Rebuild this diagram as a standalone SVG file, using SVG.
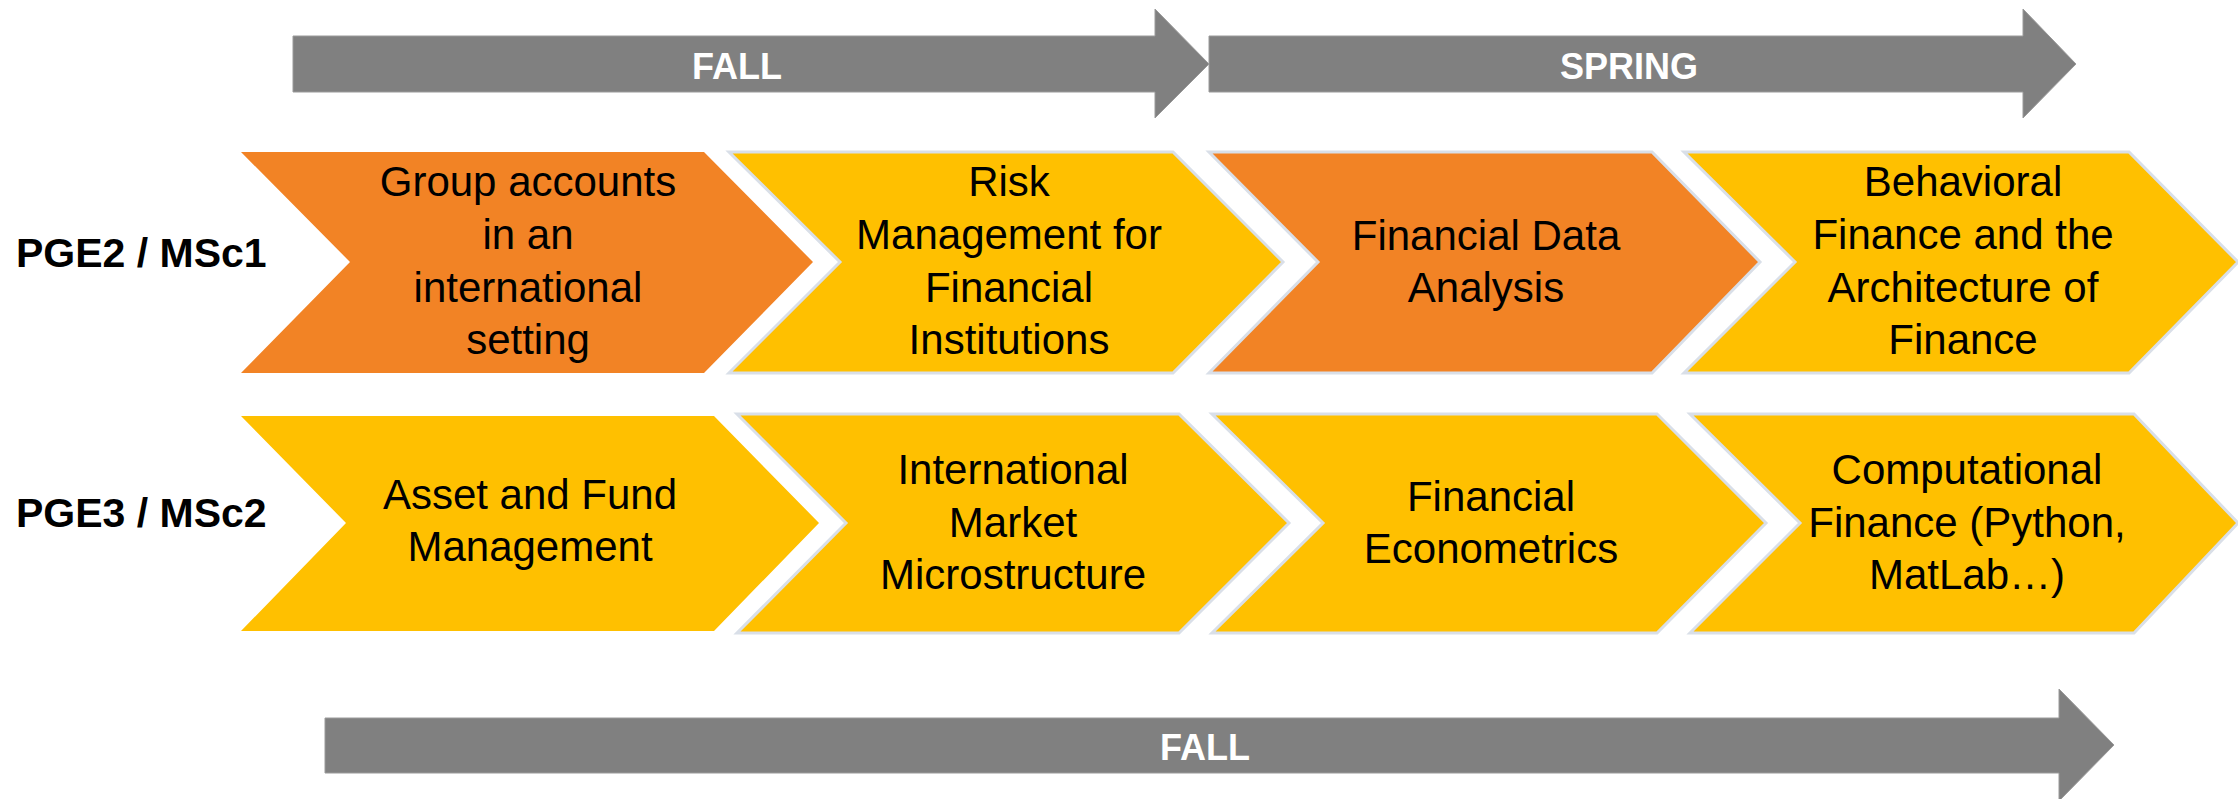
<svg xmlns="http://www.w3.org/2000/svg" width="2238" height="799" viewBox="0 0 2238 799">
<style>
.bg{fill:#ffffff}
.arrow{fill:#808080;stroke:#9a9a9a;stroke-width:1}
.atxt{font-family:"Liberation Sans",Arial,sans-serif;font-weight:bold;font-size:36px;fill:#ffffff;text-anchor:middle}
.lbl{font-family:"Liberation Sans",Arial,sans-serif;font-weight:bold;font-size:41px;fill:#000000}
.or{fill:#F28325}
.ye{fill:#FFC000}
.ol{stroke:#D9DFE8;stroke-width:3;stroke-linejoin:miter}
.t{font-family:"Liberation Sans",Arial,sans-serif;font-size:42px;fill:#000000;text-anchor:middle}
</style>
<rect class="bg" x="0" y="0" width="2238" height="799"/>
<g id="connectors">
  <g id="arrow-fall-top">
    <polygon class="arrow" points="293,36 1155,36 1155,9 1209,64 1155,118 1155,92 293,92"/>
    <text class="atxt" x="737" y="79">FALL</text>
  </g>
  <g id="arrow-spring">
    <polygon class="arrow" points="1209,36 2023,36 2023,9 2076,64 2023,118 2023,92 1209,92"/>
    <text class="atxt" x="1629" y="79">SPRING</text>
  </g>
  <g id="arrow-fall-bottom">
    <polygon class="arrow" points="325,718 2059,718 2059,689 2114,745 2059,801 2059,773 325,773"/>
    <text class="atxt" x="1205" y="760">FALL</text>
  </g>
</g>
<g id="label-pge2">
  <text class="lbl" x="16" y="267">PGE2 / MSc1</text>
</g>
<g id="label-pge3">
  <text class="lbl" x="16" y="527">PGE3 / MSc2</text>
</g>
<g id="r1c1">
  <polygon class="or" points="241,152 704,152 813,262 704,373 241,373 350,262"/>
  <text class="t" x="528" y="196">Group accounts</text>
  <text class="t" x="528" y="249">in an</text>
  <text class="t" x="528" y="302">international</text>
  <text class="t" x="528" y="354">setting</text>
</g>
<g id="r1c2">
  <polygon class="ye ol" points="729,152 1173,152 1283,262 1173,373 729,373 840,262"/>
  <text class="t" x="1009" y="196">Risk</text>
  <text class="t" x="1009" y="249">Management for</text>
  <text class="t" x="1009" y="302">Financial</text>
  <text class="t" x="1009" y="354">Institutions</text>
</g>
<g id="r1c3">
  <polygon class="or ol" points="1209,152 1652,152 1760,262 1652,373 1209,373 1318,262"/>
  <text class="t" x="1486" y="250">Financial Data</text>
  <text class="t" x="1486" y="302">Analysis</text>
</g>
<g id="r1c4">
  <polygon class="ye ol" points="1684,152 2129,152 2238,262 2129,373 1684,373 1795,262"/>
  <text class="t" x="1963" y="196">Behavioral</text>
  <text class="t" x="1963" y="249">Finance and the</text>
  <text class="t" x="1963" y="302">Architecture of</text>
  <text class="t" x="1963" y="354">Finance</text>
</g>
<g id="r2c1">
  <polygon class="ye" points="241,416 714,416 819,523 714,631 241,631 346,523"/>
  <text class="t" x="530" y="509">Asset and Fund</text>
  <text class="t" x="530" y="561">Management</text>
</g>
<g id="r2c2">
  <polygon class="ye ol" points="737,414 1179,414 1289,523 1179,633 737,633 846,523"/>
  <text class="t" x="1013" y="484">International</text>
  <text class="t" x="1013" y="537">Market</text>
  <text class="t" x="1013" y="589">Microstructure</text>
</g>
<g id="r2c3">
  <polygon class="ye ol" points="1212,414 1657,414 1766,523 1657,633 1212,633 1323,523"/>
  <text class="t" x="1491" y="511">Financial</text>
  <text class="t" x="1491" y="563">Econometrics</text>
</g>
<g id="r2c4">
  <polygon class="ye ol" points="1690,414 2134,414 2238,523 2134,633 1690,633 1800,523"/>
  <text class="t" x="1967" y="484">Computational</text>
  <text class="t" x="1967" y="537">Finance (Python,</text>
  <text class="t" x="1967" y="589">MatLab…)</text>
</g>
</svg>
